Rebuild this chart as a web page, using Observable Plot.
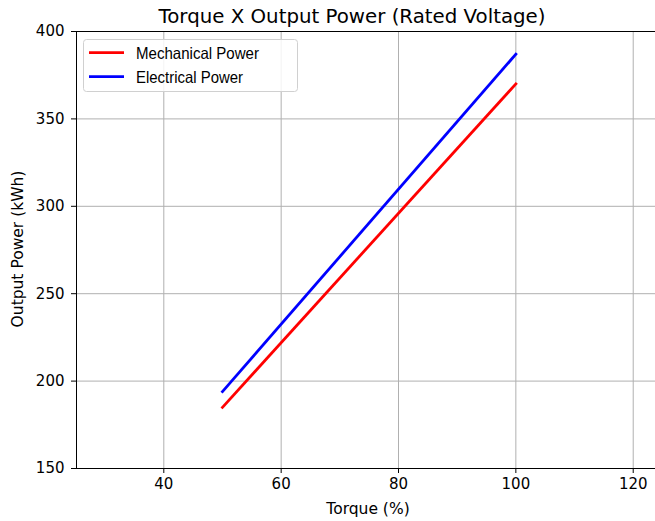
<!DOCTYPE html>
<html>
<head>
<meta charset="utf-8">
<script src="https://cdn.jsdelivr.net/npm/d3@7"></script>
<script src="https://cdn.jsdelivr.net/npm/@observablehq/plot@0.6"></script>
<style>
  html, body { margin: 0; padding: 0; background: #fff; }
  #chart { width: 655px; height: 521px; overflow: hidden; }
</style>
</head>
<body>
<div id="chart"></div>
<script>
const torque = [50, 100];
const mechanicalPower = [185, 370];
const electricalPower = [194, 387];
const seriesNames = ["Mechanical Power", "Electrical Power"];
const seriesColors = ["#ff0000", "#0000ff"];
const xTicks = [40, 60, 80, 100, 120];
const yTicks = [150, 200, 250, 300, 350, 400];
const titleText = "Torque X Output Power (Rated Voltage)";
const xLabel = "Torque (%)";
const yLabel = "Output Power (kWh)";

const rows = [];
torque.forEach((t, i) => {
  rows.push({torque: t, power: mechanicalPower[i], series: seriesNames[0]});
});
torque.forEach((t, i) => {
  rows.push({torque: t, power: electricalPower[i], series: seriesNames[1]});
});

const xDomain = [25.12, 123.8];
const yDomain = [150, 400];
const FONT = "'DejaVu Sans', sans-serif";

const plot = Plot.plot({
  width: 655,
  height: 521,
  marginLeft: 76,
  marginRight: 0,
  marginTop: 31,
  marginBottom: 53,
  style: {fontFamily: FONT, fontSize: "15px", color: "#000", background: "#fff"},
  x: {domain: xDomain, ticks: xTicks, tickSize: 5, tickPadding: 5, label: null},
  y: {domain: yDomain, ticks: yTicks, tickSize: 5, tickPadding: 7, label: null},
  color: {domain: seriesNames, range: seriesColors},
  marks: [
    Plot.gridX(xTicks, {stroke: "#b0b0b0", strokeOpacity: 1, strokeWidth: 1}),
    Plot.gridY(yTicks, {stroke: "#b0b0b0", strokeOpacity: 1, strokeWidth: 1}),
    Plot.ruleY([yDomain[0], yDomain[1]], {stroke: "#000", strokeWidth: 1}),
    Plot.ruleX([xDomain[0]], {stroke: "#000", strokeWidth: 1}),
    Plot.line(rows, {x: "torque", y: "power", z: "series", stroke: "series", strokeWidth: 2.8, strokeLinecap: "square"}),
    Plot.axisX({ticks: xTicks, tickSize: 5, tickPadding: 5, label: null, fontSize: 15}),
    Plot.axisY({ticks: yTicks, tickSize: 5, tickPadding: 7, label: null, fontSize: 15})
  ]
});

const svg = d3.select(plot);
// title
svg.append("text")
  .attr("x", 352).attr("y", 23)
  .attr("text-anchor", "middle")
  .style("font-family", FONT).style("font-size", "19.8px")
  .attr("fill", "#000")
  .text(titleText);
// x label
svg.append("text")
  .attr("x", 368).attr("y", 514)
  .attr("text-anchor", "middle")
  .style("font-family", FONT).style("font-size", "15.5px")
  .attr("fill", "#000")
  .text(xLabel);
// y label
svg.append("text")
  .attr("transform", "translate(23,249) rotate(-90)")
  .attr("text-anchor", "middle")
  .style("font-family", FONT).style("font-size", "15.5px")
  .attr("fill", "#000")
  .text(yLabel);
// legend
const legendTextWidths = [123, 107];
const lg = svg.append("g");
lg.append("rect")
  .attr("x", 83.5).attr("y", 39.5).attr("width", 214).attr("height", 52)
  .attr("rx", 3).attr("fill", "#fff").attr("fill-opacity", 0.85)
  .attr("stroke", "#d0d0d0").attr("stroke-width", 1);
seriesNames.forEach((name, i) => {
  const y = 52.7 + i * 24;
  lg.append("line").attr("x1", 89).attr("x2", 124).attr("y1", y).attr("y2", y)
    .attr("stroke", seriesColors[i]).attr("stroke-width", 2.8);
  lg.append("text").attr("x", 136).attr("y", y + 6)
    .attr("text-anchor", "start")
    .attr("textLength", legendTextWidths[i])
    .attr("lengthAdjust", "spacingAndGlyphs")
    .style("font-family", "'Liberation Sans', sans-serif")
    .style("font-size", "16.5px").attr("fill", "#000").text(name);
});

document.getElementById("chart").appendChild(plot);
</script>
</body>
</html>
